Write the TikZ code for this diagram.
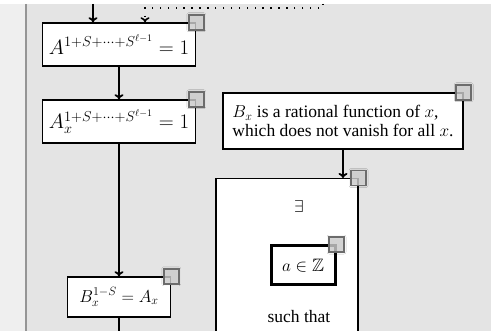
\documentclass[tikz,border=0pt]{standalone}
\usepackage{amssymb}
\usepackage[no-math]{fontspec}
\setmainfont{Liberation Serif}
\usetikzlibrary{arrows.meta,shadows.blur}

\definecolor{pagebg}{HTML}{E4E4E4}
\definecolor{sidebg}{HTML}{EFEFEF}
\definecolor{sideline}{HTML}{959595}

\tikzset{
  box/.style={draw=black, line width=1.5pt, fill=white, inner sep=0pt,
              font=\fontsize{18}{21}\selectfont},
  bigmath/.style={font=\fontsize{19.5}{22}\selectfont},
  lbl/.style={inner sep=0pt, font=\fontsize{17.5}{20}\selectfont},
  handle/.style={draw=gray!85!black, line width=1.6pt, fill=gray!25, fill opacity=.75,
                 minimum size=15pt, inner sep=0pt,
                 blur shadow={shadow xshift=0pt, shadow yshift=0pt, shadow blur radius=2pt, shadow opacity=40}},
  flow/.style={line width=1.8pt, -{To[length=5pt,width=9pt]}},
  link/.style={line width=1.8pt},
  loose/.style={line width=1.6pt, dash pattern=on 1.4pt off 6.5pt, -{To[length=5pt,width=9pt]}},
}

\begin{document}
\begin{tikzpicture}[x=1pt,y=-1pt]
\useasboundingbox (0,0) rectangle (491,331);
\clip (0,0) rectangle (491,331);

% canvas
\fill[white] (0,0) rectangle (491,331);
\fill[sidebg] (0,4) rectangle (25,331);
\fill[pagebg] (27,4) rectangle (491,331);
\draw[sideline, line width=2pt] (26,4) -- (26,331);

% left column
\node[box, bigmath, minimum width=153pt, minimum height=43pt] (pow) at (119,44.5)
  {$A^{1+S+\cdots+S^{\ell-1}}=1$};
\node[box, bigmath, minimum width=153pt, minimum height=43pt] (powx) at (119,121.5)
  {$A_x^{1+S+\cdots+S^{\ell-1}}=1$};
\node[box, font=\fontsize{18.5}{21}\selectfont, minimum width=103pt, minimum height=40pt] (bx) at (119,297)
  {$B_x^{1-S}=A_x$};

% right column
\node[box, font=\fontsize{17.5}{19}\selectfont, minimum width=240pt, minimum height=56pt, align=left] (rat) at (343,121)
  {$B_x$ is a rational function of $x$,\\which does not vanish for all $x$.};
\node[box, minimum width=142pt, minimum height=222pt, anchor=north west] (ex) at (215,178) {};
\node[lbl] (exsym) at (299,207) {$\exists$};
\node[box, line width=3pt, minimum width=64pt, minimum height=39pt] (az) at (303,265.5)
  {$a\in\mathbb{Z}$};
\node[lbl] (st) at (299,317) {such that};

% handles on the corners
\foreach \n in {pow,powx,bx,rat,ex,az}
  \node[handle] at (\n.north east) {};

% connectors
\coordinate (inA) at (93,4);
\coordinate (loopA) at (323,4);
\coordinate (loopB) at (323,8);
\coordinate (loopC) at (145,8);
\coordinate (down) at (119,331);

\draw[flow] (inA) -- (inA |- pow.north);
\draw[loose] (loopA) -- (loopB) -- (loopC) -- (loopC |- pow.north);
\draw[flow] (pow.south) -- (powx.north);
\draw[flow] (powx.south) -- (bx.north);
\draw[link] (bx.south) -- (down);
\draw[flow] (rat.south) -- (rat.south |- ex.north);
\end{tikzpicture}
\end{document}
